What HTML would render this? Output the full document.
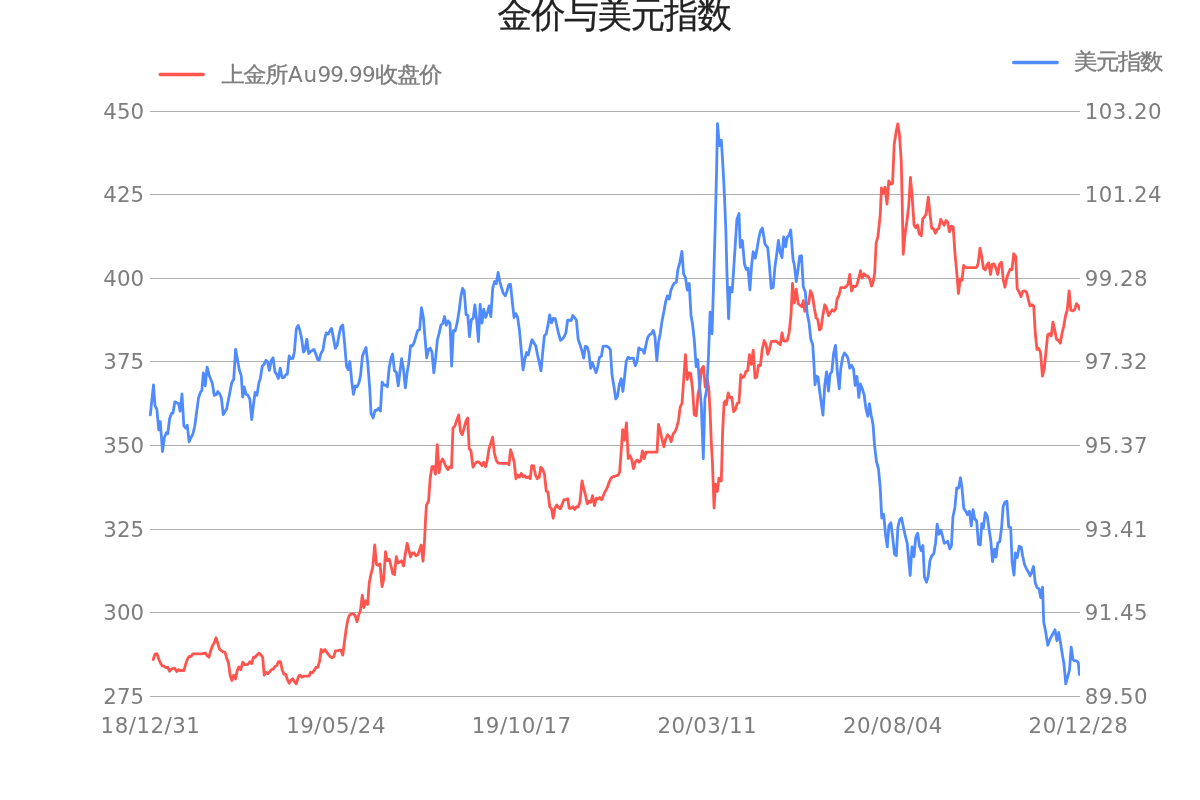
<!DOCTYPE html>
<html lang="zh"><head><meta charset="utf-8"><title>金价与美元指数</title>
<style>
html,body{margin:0;padding:0;background:#fff}
body{width:1200px;height:800px;overflow:hidden}
svg{display:block;will-change:transform}
text{font-family:"DejaVu Sans","Liberation Sans","WenQuanYi Zen Hei",sans-serif}
.ax{font-size:21.33px;fill:#7d7d7d}
.lg{font-size:21.8px;fill:#7d7d7d}
.tt{font-size:33.3px;fill:#222;stroke:#222;stroke-width:0.25px}
.cj{stroke:#7d7d7d;stroke-width:0.35px}
</style></head><body>
<svg width="1200" height="800" viewBox="0 0 1200 800">
<defs><clipPath id="pc"><rect x="148" y="100" width="932" height="610"/></clipPath></defs>
<rect width="1200" height="800" fill="#fff"/>
<text class="tt" transform="translate(497.6,27.2) scale(1.04,1.06)" letter-spacing="-1.28">金价与美元指数</text>
<g stroke="#b0b0b0" stroke-width="1" shape-rendering="crispEdges">
<line x1="150" x2="1080" y1="111.5" y2="111.5"/>
<line x1="150" x2="1080" y1="194.5" y2="194.5"/>
<line x1="150" x2="1080" y1="278.5" y2="278.5"/>
<line x1="150" x2="1080" y1="361.5" y2="361.5"/>
<line x1="150" x2="1080" y1="445.5" y2="445.5"/>
<line x1="150" x2="1080" y1="529.5" y2="529.5"/>
<line x1="150" x2="1080" y1="612.5" y2="612.5"/>
<line x1="150" x2="1080" y1="696.5" y2="696.5"/>
</g>
<text class="ax" x="144.3" y="119.1" text-anchor="end" letter-spacing="0.1">450</text>
<text class="ax" x="1084.8" y="119.1" letter-spacing="0.45">103.20</text>
<text class="ax" x="144.3" y="202.1" text-anchor="end" letter-spacing="0.1">425</text>
<text class="ax" x="1084.8" y="202.1" letter-spacing="0.45">101.24</text>
<text class="ax" x="144.3" y="286.1" text-anchor="end" letter-spacing="0.1">400</text>
<text class="ax" x="1084.8" y="286.1" letter-spacing="0.45">99.28</text>
<text class="ax" x="144.3" y="369.1" text-anchor="end" letter-spacing="0.1">375</text>
<text class="ax" x="1084.8" y="369.1" letter-spacing="0.45">97.32</text>
<text class="ax" x="144.3" y="453.1" text-anchor="end" letter-spacing="0.1">350</text>
<text class="ax" x="1084.8" y="453.1" letter-spacing="0.45">95.37</text>
<text class="ax" x="144.3" y="537.1" text-anchor="end" letter-spacing="0.1">325</text>
<text class="ax" x="1084.8" y="537.1" letter-spacing="0.45">93.41</text>
<text class="ax" x="144.3" y="620.1" text-anchor="end" letter-spacing="0.1">300</text>
<text class="ax" x="1084.8" y="620.1" letter-spacing="0.45">91.45</text>
<text class="ax" x="144.3" y="704.1" text-anchor="end" letter-spacing="0.1">275</text>
<text class="ax" x="1084.8" y="704.1" letter-spacing="0.45">89.50</text>
<text class="ax" x="150.5" y="733" text-anchor="middle" letter-spacing="0.5">18/12/31</text>
<text class="ax" x="336.1" y="733" text-anchor="middle" letter-spacing="0.5">19/05/24</text>
<text class="ax" x="521.7" y="733" text-anchor="middle" letter-spacing="0.5">19/10/17</text>
<text class="ax" x="707.3" y="733" text-anchor="middle" letter-spacing="0.5">20/03/11</text>
<text class="ax" x="892.9" y="733" text-anchor="middle" letter-spacing="0.5">20/08/04</text>
<text class="ax" x="1078.5" y="733" text-anchor="middle" letter-spacing="0.5">20/12/28</text>
<line x1="160.2" x2="203.2" y1="74.5" y2="74.5" stroke="#ff554e" stroke-width="3.3" stroke-linecap="round"/>
<text class="lg cj" style="font-size:22px" transform="translate(221.6,81.6) scale(1.06,1)" x="0.00 20.47 41.23">上金所</text>
<text class="lg" style="font-size:21.5px" y="81.6" x="288.0 303.4 317.4 330.3 342.5 349.1 362.0">Au99.99</text>
<text class="lg cj" style="font-size:22px" transform="translate(375.2,81.6) scale(1.06,1)" x="0.00 20.75 41.60">收盘价</text>
<line x1="1013.7" x2="1057.2" y1="62.5" y2="62.5" stroke="#4f8bff" stroke-width="3.3" stroke-linecap="round"/>
<text class="lg cj" style="font-size:22.2px" transform="translate(1073.9,69.0) scale(1.06,1)" x="0.00 20.75 41.51 62.26">美元指数</text>
<polyline fill="none" stroke="#ff554e" stroke-width="2.8" clip-path="url(#pc)" stroke-linejoin="round" stroke-linecap="round" points="153.2,659.48 155,654.23 156.94,653.78 158.74,659.18 160.54,663.22 162.19,665.77 163.99,666.22 165.79,667.72 167.74,667.27 169.54,671.17 171.19,669.22 172.99,668.47 174.79,668.17 176.74,671.47 178.54,669.67 180.19,670.72 181.99,670.27 183.94,670.72 185.74,663.97 187.54,658.73 189.18,656.48 190.98,656.48 192.78,653.93 194.73,653.93 196.53,653.93 198.48,653.93 200.28,653.93 201.93,653.93 203.73,653.48 205.53,653.03 207.18,655.73 208.98,657.23 210.78,650.48 212.43,645.68 214.23,642.98 216.03,637.73 217.68,642.98 219.48,648.98 221.42,650.78 223.22,651.98 225.02,652.43 226.67,657.98 228.47,663.22 230.27,675.97 231.92,680.47 233.72,675.22 235.52,678.97 237.17,670.72 238.97,666.97 240.77,669.67 242.72,662.17 244.52,664.72 246.17,664.72 247.97,664.27 249.92,661.72 251.72,663.67 253.51,657.23 255.16,657.23 256.96,654.98 258.76,653.18 260.71,654.68 262.66,657.23 264.16,675.22 265.96,672.22 267.76,673.72 269.71,671.77 271.51,669.67 273.16,669.22 274.96,666.67 276.76,665.47 278.41,661.72 280.51,661.72 282.16,669.67 283.96,674.17 285.75,674.47 287.4,679.72 289.2,683.17 291,680.17 292.65,678.67 294.45,681.67 296.3,683.96 298.25,677.22 300.05,674.97 301.7,677.22 303.5,676.17 305.45,676.17 307.24,676.17 309.04,676.17 310.54,672.27 312.49,672.72 314.29,670.17 315.94,667.47 317.74,667.47 319.54,661.47 321.19,649.48 322.99,652.17 324.94,649.48 326.74,652.17 328.54,654.72 330.19,656.67 331.99,657.72 333.79,656.67 335.44,650.97 337.24,650.97 339.03,650.22 340.98,650.22 342.78,655.17 344.43,641.98 346.23,628.48 348.03,618.73 349.68,614.99 351.48,613.79 353.28,613.79 355.23,615.74 357.03,621.73 358.68,614.99 360.48,610.49 362.28,595.19 363.93,607.49 365.73,600.74 367.68,604.49 369.18,583.5 370.8,574.97 372.75,567.47 374.7,544.98 376.49,564.47 378.29,565.22 379.94,563.72 382.04,586.66 383.69,579.47 385.49,551.72 387.29,560.72 389.24,559.22 391.04,565.97 392.69,573.47 394.49,574.67 396.29,556.67 397.94,562.97 399.74,562.22 401.54,560.72 403.49,565.97 405.29,553.97 407.09,543.48 408.73,549.48 410.53,556.97 412.18,553.22 413.98,552.77 415.93,555.77 417.73,554.72 419.53,550.22 421.18,544.98 422.98,561.17 424.48,541.98 425.53,519.48 426.45,504.97 428.55,501.22 430.2,477.98 432,466.73 433.95,466.73 435.45,474.23 437.24,444.69 439.04,472.73 440.54,462.98 442.49,458.93 444.44,462.98 446.24,467.48 448.04,469.73 449.69,466.73 451.49,467.78 452.99,427.74 454.79,426.24 456.74,420.24 458.69,415 460.49,431.49 462.29,434.79 463.94,428.49 466.04,420.99 467.69,417.99 469.18,448.73 470.98,450.98 472.93,467.18 474.73,464.18 476.53,461.93 478.48,461.93 480.28,463.28 481.93,465.68 483.73,462.23 485.53,466.73 487.18,460.73 488.98,448.73 490.78,443.49 492.58,437.19 494.38,453.23 496.18,459.98 497.98,462.98 499.78,463.28 501.72,463.28 503.52,463.28 505.47,463.28 507.27,463.28 508.92,464.78 510.57,449.78 512.52,456.23 514.17,462.23 515.97,478.73 517.77,474.98 519.42,477.23 521.22,473.48 523.02,476.78 524.67,475.73 526.47,477.68 528.27,476.78 530.22,478.73 531.72,465.68 533.66,465.98 535.46,474.98 537.26,478.73 539.21,477.23 540.71,467.18 542.66,469.28 544.46,474.23 546.26,491.17 547.91,491.77 549.71,506.77 551.51,508.72 553.16,518.16 554.96,507.97 556.76,504.97 558.71,507.67 560.51,508.72 562.16,504.22 563.96,499.72 565.75,499.72 567.7,498.67 569.3,508.27 571.25,508.27 573.05,506.77 574.7,509.47 576.49,506.77 578.29,506.77 579.94,501.97 582.04,480.97 583.69,488.47 585.49,495.22 587.29,503.77 588.94,501.22 590.74,502.27 592.54,495.67 594.49,505.72 596.29,498.22 597.94,498.97 599.74,497.47 601.69,499.72 603.49,495.22 605.29,491.17 607.24,487.72 609.03,482.47 610.68,478.73 612.48,476.78 614.43,476.48 616.23,475.73 618.03,475.43 619.68,471.98 621.18,450.98 622.68,429.69 624.48,440.19 626.43,422.79 628.23,458.48 630.03,455.78 631.68,459.23 633.48,468.68 635.43,461.78 637.23,459.98 639.03,462.23 640.67,460.73 642.47,450.98 644.27,458.78 645.92,452.18 647.72,452.18 649.52,452.18 651.47,452.18 653.27,452.18 655.22,452.18 657.02,452.18 658.52,424.29 660.17,430.74 661.97,439.29 663.92,446.79 665.72,438.99 667.52,434.79 669.47,436.74 671.2,441.72 673,434.22 674.8,431.97 676.75,427.47 678.55,419.97 680.2,407.23 682,403.48 683.5,382.48 685.45,354.74 687.24,379.48 689.04,372.74 690.69,373.49 692.49,388.48 694.29,414.72 696.24,415.77 698.04,393.73 699.69,386.98 701.49,368.99 703.44,366.29 705.24,386.98 707.19,378.73 708.69,387.73 710.19,413.97 711.3,443 712.4,462 714.05,508 715.5,484.25 717.4,491.4 718.9,478.25 721.3,481 722.7,430 724.1,402.5 725.3,401 726.4,404.5 728.18,392.98 729.98,397.48 731.78,397.48 733.73,411.72 735.53,409.48 737.18,403.48 738.98,402.73 740.78,374.69 742.43,377.69 744.23,376.49 746.03,371.24 747.68,370.49 749.48,354.74 751.27,364.49 753.22,350.24 755.02,377.99 756.67,377.24 758.47,365.24 760.42,365.69 762.22,349.49 764.17,340.5 765.97,344.25 767.77,354.29 769.42,349.49 771.22,341.7 773.02,341.25 774.67,341.25 776.47,341.25 778.27,343.2 780.22,344.7 782.01,333 783.66,340.8 785.46,341.25 787.25,340.46 789.2,332.22 791,314.97 792.5,283.48 794.3,302.98 796.25,289.18 798.2,303.73 800,305.22 801.79,306.72 803.29,300.73 804.79,311.22 806.74,303.28 808.69,303.73 810.49,290.68 812.44,295.48 814.24,307.47 816.19,317.97 817.69,319.17 819.49,329.97 820.99,328.47 822.79,315.72 824.74,304.78 826.69,308.22 828.49,315.72 830.29,312.72 832.24,309.72 834.03,311.22 835.68,308.97 837.18,298.48 838.98,295.48 840.78,287.68 842.73,287.68 844.68,287.68 846.48,286.18 847.98,284.23 849.78,274.48 851.58,290.98 853.38,286.18 855.18,286.78 856.98,284.98 858.78,278.23 860.43,270.74 862.23,278.23 864.03,273.73 865.97,275.98 867.77,275.98 869.72,278.98 871.52,286.18 873.17,281.98 874.67,272.99 876.17,242.99 877.97,236.25 880.24,214.97 881.44,187.98 883.24,193.22 885.04,187.23 886.99,204.17 888.79,180.78 890.74,184.23 892.54,183.48 894.19,144.49 895.99,132.49 897.79,123.8 899.44,134.74 901.24,160.98 902.04,195 903.24,254.23 905.04,233.98 906.99,220.49 908.79,205.49 910.44,177.3 912.24,197.99 914.04,224.99 915.69,227.69 917.49,224.99 919.29,233.98 921.24,235.78 922.74,218.99 924.54,216.74 926.19,213.74 928.28,197.24 929.93,213.74 931.73,228.28 933.53,228.73 935.48,233.23 937.28,229.48 938.93,228.28 940.73,219.29 942.53,222.74 944.18,225.29 945.98,220.49 947.78,222.74 949.43,231.73 951.23,226.19 953.18,226.79 954.98,253.48 956.78,272.97 958.43,293.51 960.22,278.97 962.02,280.17 963.67,265.47 965.47,267.27 967.27,267.72 969.22,267.72 971.02,267.72 972.97,267.72 974.77,267.72 976.72,267.27 978.22,263.22 980.02,248.23 981.67,256.48 983.47,268.47 985.27,269.97 986.92,264.72 988.72,262.77 990.52,274.47 992.16,264.27 993.96,263.97 995.76,267.72 997.71,274.47 999.51,264.27 1001.46,262.17 1003.26,279.72 1004.91,287.22 1006.71,278.22 1008.51,272.97 1010.16,269.22 1011.96,269.67 1013.76,253.78 1015.71,256.48 1017.21,288.72 1019.01,291.72 1020.96,296.66 1022.76,291.27 1024.7,290.97 1026.54,292.19 1028.19,298.79 1029.99,305.99 1031.79,304.79 1033.74,305.99 1035.24,332.98 1037.04,349.48 1038.69,348.28 1040.49,352.47 1042.44,376.17 1044.24,368.97 1046.04,350.97 1047.69,334.78 1049.48,333.73 1051.28,335.98 1052.93,322.18 1054.73,329.98 1056.53,339.28 1058.48,340.48 1060.28,343.18 1061.93,333.73 1063.73,326.23 1065.53,315.74 1067.18,310.49 1069.13,290.99 1070.78,310.19 1072.73,310.79 1074.53,309.74 1076.48,303.74 1078.28,305.99 1079.48,309.29"/>
<polyline fill="none" stroke="#4f8bff" stroke-width="2.8" clip-path="url(#pc)" stroke-linejoin="round" stroke-linecap="round" points="150.31,414.97 153.5,384.98 155,405.6 156.87,409.34 158.74,429.96 160.24,421.53 162.49,451.52 164.37,437.46 166.24,432.77 167.74,433.71 169.62,418.72 171.49,413.47 172.99,413.09 174.86,401.85 178.61,403.72 180.11,411.22 181.99,393.97 183.86,425.84 185.74,428.09 187.24,425.28 189.11,441.77 190.98,437.46 192.86,434.09 194.73,426.21 198.48,398.1 200.36,392.47 201.86,390.6 203.36,372.79 205.23,385.91 207.1,367.17 208.98,374.67 212.35,383.48 214.23,395.29 216.1,394.72 217.79,391.54 219.66,393.79 221.35,397.72 223.22,414.59 225.1,411.22 226.6,408.97 231.85,382.16 233.72,379.35 235.6,349.36 237.47,359.67 239.34,369.98 241.22,375.6 242.72,397.16 244.22,386.85 246.09,394.35 247.97,395.29 249.84,399.03 251.72,419.65 253.59,403.72 255.09,392.47 256.96,395.29 258.84,383.1 260.34,378.42 262.21,366.23 264.09,364.36 265.96,360.23 267.46,361.55 269.33,370.36 271.21,360.61 273.08,357.8 274.96,371.86 276.83,374.67 278.33,378.42 280.21,368.11 282.08,377.85 283.96,377.48 285.83,374.67 287.33,374.1 289.2,355.92 291.08,358.73 292.95,358.36 294.45,351.24 296.33,328.74 298.2,325.37 299.7,329.68 301.57,338.12 303.45,352.17 304.95,350.3 306.82,339.05 308.7,353.49 310.57,351.61 312.45,350.3 313.95,349.36 315.82,354.05 317.69,359.67 319.19,360.23 321.07,353.11 322.94,350.3 324.82,338.12 326.32,332.87 328.19,333.99 330.07,330.62 331.57,328.37 333.44,338.12 335.31,348.43 336.81,344.68 337.12,345.6 339,335.29 340.87,326.86 342.75,324.98 344.62,343.73 346.49,366.22 348.18,369.59 349.87,361.53 351.74,381.21 353.43,394.33 355.3,385.9 356.99,386.84 358.87,383.09 360.55,375.59 362.43,356.28 364.3,351.22 365.99,347.47 367.86,364.34 369.74,388.71 371.05,413.45 373.11,417.95 374.99,410.45 376.67,410.45 378.55,408.21 380.42,411.02 382.11,382.15 383.98,384.96 385.86,385.34 387.36,386.84 389.23,367.16 391.11,357.78 392.61,354.03 394.48,370.9 396.35,372.22 398.23,385.9 399.73,373.72 401.6,358.72 403.48,369.03 405.35,387.77 407.23,371.84 408.73,363.41 410.6,345.6 412.47,345.97 414.35,341.85 416.22,335.29 417.72,330.6 419.6,329.67 421.47,307.74 423.35,317.48 424.85,336.23 426.72,357.78 428.59,349.35 430.28,348.04 431.97,352.16 433.84,372.78 435.72,356.85 437.4,339.98 439.09,333.42 440.97,324.98 442.84,323.48 444.53,316.55 446.21,325.36 448.09,320.86 449.96,323.11 451.65,366.22 453.34,330.6 455.21,330.98 457.09,323.11 458.96,311.86 460.83,296.87 462.52,288.43 464.21,291.24 466.08,314.67 467.77,315.23 469.46,336.6 471.33,319.73 473.21,318.42 474.89,304.93 476.58,319.36 478.45,341.48 480.14,304.36 482.01,323.11 483.7,309.05 485.58,317.48 487.45,312.8 489.14,305.86 490.82,316.55 492.7,288.43 494.57,281.49 496.26,283.74 498.13,272.5 499.82,281.87 501.7,288.43 503.38,293.49 505.26,295.93 506.94,291.24 508.82,284.68 510.51,284.31 512.38,302.49 514.07,317.48 515.94,313.73 517.63,317.48 519.5,330.6 521.19,349.35 523.06,369.97 524.94,358.72 526.63,352.54 528.31,354.97 530.12,346.85 532,339.73 533.87,342.73 535.75,345.91 537.43,354.35 539.12,361.85 540.99,370.84 542.87,350.6 544.37,335.98 546.24,333.73 548.12,324.36 549.62,314.99 551.49,322.86 553.36,318.36 555.24,318.73 556.93,326.23 558.61,333.73 560.49,340.29 562.36,338.98 564.24,336.54 565.92,332.79 567.61,320.23 569.48,320.23 571.17,320.61 572.86,315.55 574.73,317.8 576.42,320.23 578.11,338.98 579.98,344.6 581.86,350.6 583.73,358.1 585.23,346.48 587.1,346.85 588.79,352.47 590.67,368.41 592.35,362.78 594.23,367.84 596.1,372.72 597.79,366.53 599.48,357.16 601.35,356.22 603.04,346.48 604.72,346.1 606.6,346.1 608.47,347.23 610.35,349.66 612.03,374.97 613.91,386.21 615.78,398.96 617.47,396.52 619.34,384.34 621.22,378.72 622.91,391.46 624.59,376.84 626.28,360.91 628.15,357.16 629.84,358.66 631.72,358.1 633.4,358.1 635.28,365.6 636.96,361.85 638.84,347.79 640.71,349.66 642.4,349.66 644.27,353.41 645.96,344.98 647.84,337.1 649.71,334.67 651.58,333.36 653.27,330.36 654.96,336.54 656.83,360.53 658.52,342.16 660.21,333.73 662.08,320.61 663.96,311.24 665.64,301.87 667.33,295.87 669.2,299.05 670.89,290.24 672.58,285.93 674.45,283.12 676.33,282.18 677.9,269.3 679.85,262.6 681.9,251.3 683.6,273.8 685.5,277.7 687.3,290.1 689.2,283.4 691,315.2 692.6,324.6 694.4,341.25 696.1,366.6 697.75,359.6 699.6,386.25 701.3,405 703.3,458.7 704.9,399 706.6,390 708.4,358.1 710.1,312.2 712,333.75 713.7,279.4 715.1,230 716.6,170 717.5,123.6 719.4,145.5 721.35,140.1 723.15,170 724.5,197 725.85,230 726.9,272 728.6,318.8 730,287.3 732.15,291.8 733.85,266.5 736.9,219.5 739,213.5 740.25,247.25 742.35,240.5 744.5,264 746.2,269.3 748,268.2 749.9,289.9 751.6,265.4 753.2,251.6 755.3,258.2 757.2,248 758.6,239 760.5,230.75 762.4,228.1 765.1,244.4 767.7,247.7 769.3,264 771.2,288.4 773.2,287.3 775,266.5 776.9,253 778.4,240.4 780.2,252.2 782,257.6 783.6,237 785.6,246.9 787.1,237.5 789,235.25 790.75,230 793.1,260 794.3,264.74 796.25,281.68 798.05,269.24 799.7,256.19 801.49,255.74 803.29,286.78 805.24,291.73 807.19,313.47 808.99,322.47 810.8,339 812.75,345 813.8,361.49 815,384.73 816.49,376.19 817.99,377.24 819.49,389.98 821.14,401.98 822.94,415.17 824.74,385.48 826.54,371.99 828.49,391.18 829.99,374.24 831.79,371.69 833.74,352.49 835.54,345.45 837.49,373.49 839.29,388.78 840.79,368.24 842.74,356.99 844.54,352.94 846.49,355.49 847.99,358.49 849.78,368.24 851.73,365.24 853.53,368.99 855.18,385.48 856.98,376.49 858.78,397.48 860.43,383.98 862.23,388.48 864.18,395.23 865.98,408.73 867.78,416.22 869.43,403.78 871.23,415.47 873.03,424.47 874.53,445.46 876.49,461.74 878.44,468.49 880.24,487.99 881.74,517.98 883.69,514.23 885.49,534.47 887.29,546.77 888.94,525.47 890.89,522.77 892.69,537.47 894.49,553.96 896.29,555.76 897.94,527.27 899.74,519.48 901.54,517.98 903.49,527.72 905.29,535.97 907.24,543.47 907.8,549.98 910.2,575.47 912,546.98 913.95,556.73 915.75,537.24 917.69,533.19 919.49,546.23 921.29,550.73 922.94,545.48 924.44,576.97 926.54,582.22 928.19,576.22 929.99,560.48 931.79,555.68 933.74,553.73 935.54,543.23 937.19,524.19 938.99,534.24 940.79,530.19 942.44,535.74 944.24,543.23 946.04,542.48 947.69,541.28 949.78,548.78 951.43,545.78 952.93,516.99 954.92,507.48 956.72,487.99 958.67,487.99 960.47,477.79 961.97,487.99 963.77,508.23 965.72,511.23 967.52,514.68 969.47,511.23 971.27,525.77 973.06,509.73 974.71,518.73 976.66,520.97 978.46,544.22 980.26,544.97 981.76,523.67 983.41,527.72 985.21,512.73 987.16,515.73 988.96,528.47 990.76,540.47 992.52,561.68 994.47,549.23 995.97,557.18 997.77,543.23 999.72,541.73 1001.52,528.24 1003.17,506.49 1004.97,502 1006.92,501.25 1008.72,527.19 1010.67,527.49 1012.16,562.73 1013.96,575.17 1015.46,552.98 1017.26,557.48 1019.21,546.23 1021.16,546.98 1022.66,555.98 1024.46,564.23 1026.41,568.73 1028.21,571.72 1030.16,575.77 1031.96,571.72 1033.46,566.48 1035.26,582.97 1037.21,587.77 1039.01,588.67 1040.73,597.69 1042.53,587.2 1043.73,621.99 1045.53,630.98 1047.78,645.23 1049.73,639.98 1051.53,636.23 1053.18,633.23 1054.98,629.78 1056.93,640.73 1058.73,632.48 1060.52,642.98 1062.17,653.48 1063.97,663.97 1065.77,683.77 1067.72,676.72 1069.52,669.97 1071.17,647.03 1072.97,659.48 1074.77,660.97 1076.72,660.97 1078.22,662.47 1079.42,674.47"/>
</svg></body></html>
